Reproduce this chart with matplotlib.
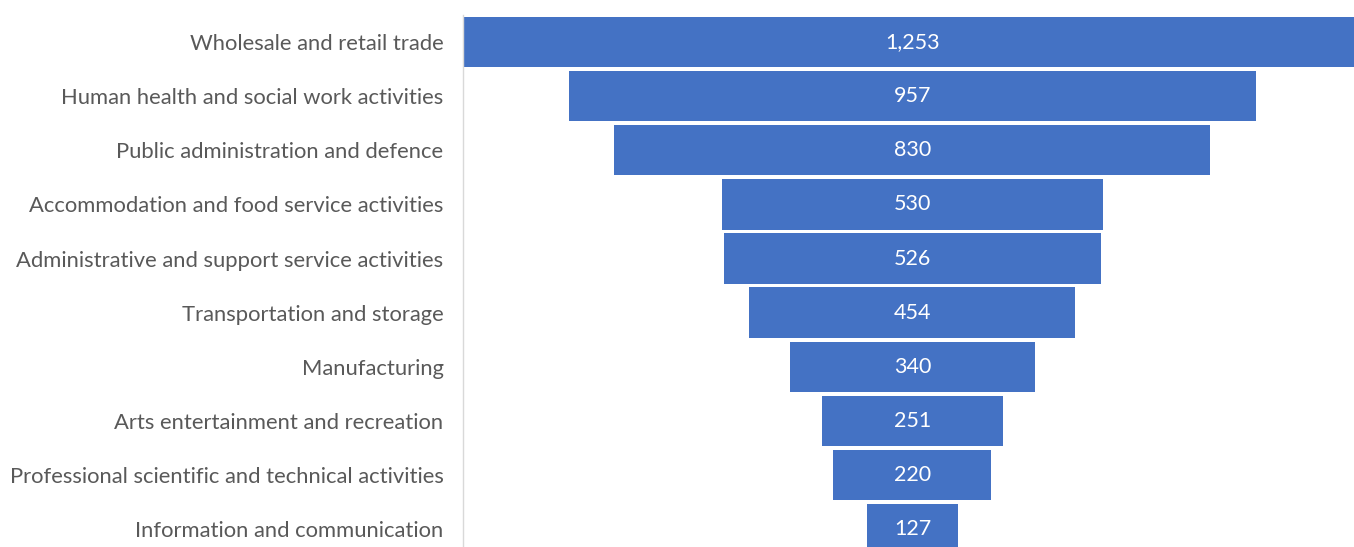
import matplotlib.pyplot as plt

CATEGORIES = [
    "Wholesale and retail trade",
    "Human health and social work activities",
    "Public administration and defence",
    "Accommodation and food service activities",
    "Administrative and support service activities",
    "Transportation and storage",
    "Manufacturing",
    "Arts entertainment and recreation",
    "Professional scientific and technical activities",
    "Information and communication",
]
VALUES = [1253, 957, 830, 530, 526, 454, 340, 251, 220, 127]

BAR_COLOR = "#4472C4"
TEXT_COLOR = "#595959"

plt.rcParams["font.family"] = ["Lato", "DejaVu Sans"]

fig = plt.figure(figsize=(13.54, 5.47), dpi=100)
ax = fig.add_axes([463 / 1354, 0, 891 / 1354, 532 / 547])

ypos = list(range(len(VALUES)))
lefts = [-v / 2 for v in VALUES]
ax.barh(ypos, VALUES, left=lefts, height=0.93, color=BAR_COLOR)

for y, v in zip(ypos, VALUES):
    ax.text(0, y, f"{v:,}", ha="center", va="center", color="white", fontsize=15.5)

ax.set_xlim(-626, 615)
ax.set_ylim(9.33, -0.5)
ax.set_yticks(ypos)
ax.set_yticklabels(CATEGORIES, fontsize=15.8, color=TEXT_COLOR)
ax.tick_params(axis="y", length=0, pad=14)
ax.set_xticks([])

for side in ["top", "right", "bottom"]:
    ax.spines[side].set_visible(False)
ax.spines["left"].set_color("#D9D9D9")
ax.spines["left"].set_linewidth(1.0)

fig.savefig("out.png", dpi=100)
